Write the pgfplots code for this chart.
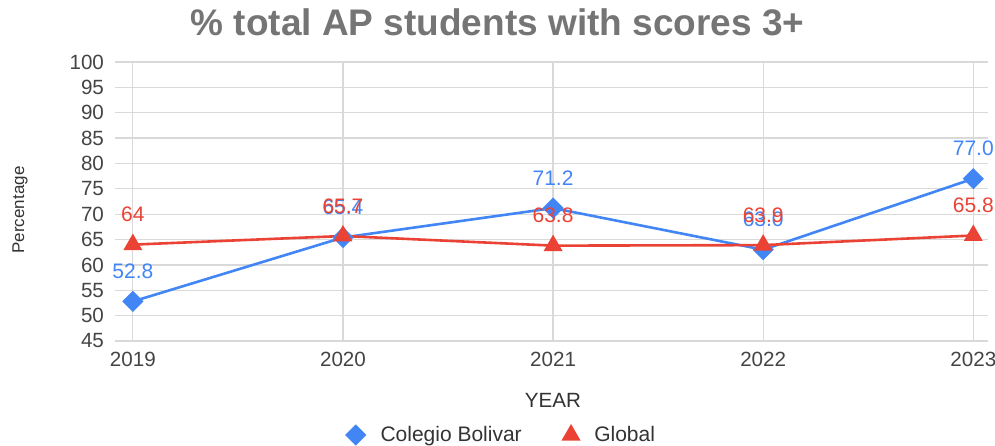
\documentclass[border=0pt]{standalone}
\usepackage{fontspec}
\setmainfont{Liberation Sans}
\usepackage{pgfplots}
\pgfplotsset{compat=1.18}
\definecolor{cblue}{HTML}{4285F4}
\definecolor{cred}{HTML}{EA4335}
\definecolor{tickgray}{HTML}{444444}
\definecolor{gridgray}{HTML}{D9D9D9}
\definecolor{titlegray}{HTML}{757575}
\definecolor{textgray}{HTML}{333333}
\begin{document}
\begin{tikzpicture}
\path[use as bounding box] (-57.5pt,-52pt) rectangle (440pt,170.5pt);
\begin{axis}[
  at={(0pt,0pt)}, anchor=south west,
  scale only axis, width=436.5pt, height=139.5pt,
  xmin=2018.915, xmax=2023.07, ymin=45, ymax=100,
  xtick={2019,2020,2021,2022,2023},
  xticklabels={2019,2020,2021,2022,2023},
  ytick={45,50,...,100},
  axis line style={draw=none},
  major tick length=0pt,
  grid=major,
  grid style={gridgray, line width=0.6pt},
  tick label style={font=\fontsize{10.3}{12}\selectfont, text=tickgray},
  /pgf/number format/assume math mode=true,
  yticklabel style={xshift=-2pt},
  xticklabel style={yshift=-2pt},
  clip=false,
  nodes near coords,
  point meta=explicit symbolic,
  every node near coord/.append style={anchor=center, yshift=15pt, font=\fontsize{10.5}{12}\selectfont},
  legend columns=2,
  legend style={at={(194pt,-47pt)}, anchor=center, draw=none, fill=none,
    font=\fontsize{10.5}{12}\selectfont, text=textgray,
    /tikz/every odd column/.append style={column sep=6pt},
    /tikz/every even column/.append style={column sep=19pt}},
  legend cell align=left,
  legend image code/.code={\draw[#1] plot[only marks] coordinates {(0.15cm,0cm)};},
]
\addplot[cblue, line width=1.3pt, mark=square*, mark size=3.1pt,
  mark options={rotate=45, fill=cblue, draw=cblue},
  every node near coord/.append style={text=cblue}]
  coordinates {(2019,52.8) [52.8] (2020,65.4) [65.4] (2021,71.2) [71.2] (2022,63.0) [63.0] (2023,77.0) [77.0]};
\addlegendentry{Colegio Bolivar}
\addplot[cred, line width=1.3pt, mark=triangle*, mark size=4.2pt,
  mark options={fill=cred, draw=cred},
  every node near coord/.append style={text=cred}]
  coordinates {(2019,64) [64] (2020,65.7) [65.7] (2021,63.8) [63.8] (2022,63.9) [63.9] (2023,65.8) [65.8]};
\addlegendentry{Global}
\end{axis}
\node[font=\bfseries\fontsize{18.5}{22}\selectfont, text=titlegray] at (191.25pt,159.5pt) {\% total AP students with scores 3+};
\node[font=\fontsize{8.5}{10}\selectfont, text=textgray, rotate=90] at (-47.5pt,65.5pt) {Percentage};
\node[font=\fontsize{10.3}{12}\selectfont, text=textgray] at (219pt,-29.5pt) {YEAR};
\end{tikzpicture}
\end{document}
